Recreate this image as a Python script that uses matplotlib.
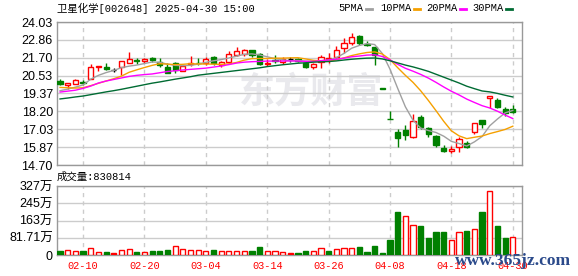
import matplotlib
matplotlib.use("Agg")
import matplotlib.pyplot as plt
from matplotlib.patches import Rectangle
from matplotlib.lines import Line2D

plt.rcParams['font.family'] = ['Liberation Sans', 'Noto Sans CJK SC']

# ---- data ----
title = '卫星化学[002648] 2025-04-30 15:00'
dates = ['02-05', '02-06', '02-07', '02-10', '02-11', '02-12', '02-13', '02-14', '02-17', '02-18',
         '02-19', '02-20', '02-21', '02-24', '02-25', '02-26', '02-27', '02-28', '03-03', '03-04',
         '03-05', '03-06', '03-07', '03-10', '03-11', '03-12', '03-13', '03-14', '03-17', '03-18',
         '03-19', '03-20', '03-21', '03-24', '03-25', '03-26', '03-27', '03-28', '03-31', '04-01',
         '04-02', '04-03', '04-07', '04-08', '04-09', '04-10', '04-11', '04-14', '04-15', '04-16',
         '04-17', '04-18', '04-21', '04-22', '04-23', '04-24', '04-25', '04-28', '04-29', '04-30']

opens = [20.16, 19.93, 19.97, 20.10, 20.29, 21.07, 21.11, 20.92, 21.07, 21.33,
         21.52, 21.48, 21.70, 21.44, 21.11, 21.33, 20.85, 21.27, 21.38, 21.33,
         21.72, 21.22, 21.44, 21.88, 21.94, 22.20, 21.94, 21.31, 21.55, 21.40,
         21.59, 21.63, 21.33, 21.11, 21.44, 21.59, 21.72, 22.31, 22.64, 23.11,
         22.59, 22.42, 19.70, 17.73, 16.87, 16.98, 16.55, 17.85, 17.13, 16.61,
         15.83, 15.59, 15.85, 16.16, 16.87, 17.64, 19.05, 18.94, 18.33, 18.35]
highs = [20.29, 20.07, 20.31, 20.25, 21.29, 21.18, 21.33, 21.03, 21.48, 22.07,
         21.66, 21.70, 21.76, 21.66, 21.33, 21.40, 21.22, 21.81, 21.66, 21.72,
         21.83, 21.50, 22.16, 22.42, 22.25, 22.20, 21.99, 21.59, 21.88, 21.76,
         21.72, 21.66, 21.44, 21.33, 21.88, 21.99, 22.46, 22.97, 23.29, 23.18,
         22.81, 22.42, 19.70, 18.20, 17.03, 17.31, 18.03, 17.98, 17.20, 16.66,
         16.00, 15.94, 16.51, 16.27, 17.42, 17.64, 19.20, 19.05, 18.46, 18.61]
lows = [19.90, 19.64, 19.97, 19.92, 20.29, 20.85, 20.90, 20.79, 20.57, 21.33,
        21.29, 21.37, 21.40, 21.11, 20.68, 20.72, 20.85, 21.18, 21.22, 21.22,
        21.22, 21.07, 21.33, 21.81, 21.81, 21.77, 21.22, 21.16, 21.33, 21.27,
        21.44, 21.44, 21.05, 20.94, 21.01, 21.37, 21.66, 22.03, 22.53, 22.53,
        22.46, 21.22, 19.69, 17.72, 15.89, 16.33, 16.44, 17.03, 16.55, 15.85,
        15.57, 15.50, 15.57, 15.79, 16.72, 17.09, 18.40, 18.40, 17.90, 18.07]
closes = [19.97, 20.03, 20.22, 20.08, 21.07, 21.18, 20.98, 20.92, 21.48, 21.61,
          21.48, 21.61, 21.55, 21.22, 20.72, 20.90, 21.18, 21.33, 21.33, 21.61,
          21.33, 21.44, 21.94, 22.14, 22.20, 21.88, 21.29, 21.35, 21.50, 21.61,
          21.59, 21.48, 21.11, 21.29, 21.77, 21.66, 22.20, 22.64, 23.07, 22.68,
          22.53, 21.88, 19.69, 17.72, 16.44, 16.66, 17.59, 17.16, 16.70, 16.00,
          15.61, 15.72, 16.38, 15.90, 17.42, 17.40, 19.20, 18.46, 18.07, 18.14]

ma5 = [19.55, 19.65, 19.78, 19.92, 20.30, 20.55, 20.73, 20.87, 21.05, 21.15,
       21.22, 21.32, 21.42, 21.40, 21.28, 21.20, 21.18, 21.20, 21.28, 21.40,
       21.50, 21.58, 21.68, 21.80, 21.92, 21.95, 21.88, 21.76, 21.64, 21.56,
       21.50, 21.52, 21.48, 21.46, 21.50, 21.55, 21.70, 21.98, 22.32, 22.50,
       22.62, 22.56, 21.97, 20.95, 19.70, 18.50, 17.62, 17.11, 16.95, 16.82,
       16.58, 16.24, 16.10, 15.94, 16.21, 16.56, 17.26, 17.70, 18.10, 18.26]
ma10 = [19.76, 19.74, 19.72, 19.74, 19.88, 20.03, 20.18, 20.33, 20.50, 20.75,
        20.91, 21.06, 21.20, 21.31, 21.28, 21.25, 21.27, 21.31, 21.29, 21.29,
        21.28, 21.26, 21.30, 21.39, 21.54, 21.64, 21.65, 21.65, 21.67, 21.67,
        21.69, 21.70, 21.62, 21.53, 21.49, 21.47, 21.56, 21.69, 21.84, 21.95,
        22.04, 22.08, 21.94, 21.58, 21.05, 20.55, 20.09, 19.54, 18.91, 18.24,
        17.55, 16.93, 16.60, 16.42, 16.51, 16.59, 16.75, 16.88, 17.02, 17.23]
ma20 = [19.46, 19.52, 19.58, 19.70, 19.85, 20.05, 20.18, 20.28, 20.38, 20.48,
        20.55, 20.60, 20.64, 20.72, 20.80, 20.85, 20.90, 20.94, 20.98, 21.02,
        21.09, 21.16, 21.25, 21.35, 21.41, 21.44, 21.46, 21.48, 21.48, 21.48,
        21.49, 21.48, 21.46, 21.46, 21.51, 21.55, 21.60, 21.67, 21.76, 21.81,
        21.87, 21.89, 21.78, 21.56, 21.27, 21.01, 20.82, 20.61, 20.37, 20.09,
        19.79, 19.51, 19.27, 19.00, 18.78, 18.57, 18.42, 18.21, 17.96, 17.73]
ma30 = [19.01, 19.07, 19.14, 19.20, 19.29, 19.38, 19.47, 19.55, 19.64, 19.74,
        19.84, 19.94, 20.04, 20.12, 20.21, 20.30, 20.38, 20.46, 20.56, 20.62,
        20.68, 20.74, 20.80, 20.86, 20.92, 20.98, 21.04, 21.12, 21.18, 21.24,
        21.29, 21.34, 21.37, 21.41, 21.43, 21.45, 21.49, 21.55, 21.60, 21.64,
        21.67, 21.68, 21.62, 21.50, 21.36, 21.22, 21.10, 20.96, 20.81, 20.62,
        20.43, 20.24, 20.05, 19.84, 19.68, 19.53, 19.47, 19.37, 19.25, 19.14]

# volume in units of 万 (10k)
volume = [19.0, 23.8, 19.0, 19.0, 31.7, 14.3, 14.3, 11.1, 23.8, 27.0,
          14.3, 12.7, 19.0, 19.0, 23.8, 41.3, 27.0, 23.8, 23.8, 19.0,
          23.8, 19.0, 19.0, 19.0, 19.0, 19.0, 38.1, 19.0, 19.0, 14.3,
          9.5, 11.1, 19.0, 19.0, 31.7, 19.0, 28.6, 31.7, 31.7, 38.1,
          15.9, 42.8, 11.1, 71.4, 201.6, 185.7, 142.8, 138.1, 81.0, 109.5,
          109.5, 71.4, 109.5, 114.3, 123.8, 204.7, 304.7, 138.1, 81.0, 83.08]
last_volume = '830814'

price_ticks = [14.70, 15.87, 17.03, 18.20, 19.37, 20.53, 21.70, 22.86, 24.03]
vol_ticks = [0, 81.71, 163.42, 245.13, 326.84]
vol_tick_labels = ['0', '81.71万', '163万', '245万', '327万']
ma_names = ['5PMA', '10PMA', '20PMA', '30PMA']

# ---- styling ----
RED = '#ff0000'
GREEN = '#008000'
GRID = '#cccccc'
FRAME = '#999999'
ma_colors = ['#a0a0a0', '#f5a000', '#ff00ff', '#006b33']
mono = ['Liberation Mono', 'Noto Sans CJK SC']

W, H = 578, 276
fig = plt.figure(figsize=(W / 100, H / 100), dpi=100)
ax = fig.add_axes([57 / W, 111 / H, 465 / W, 143 / H])
axv = fig.add_axes([57 / W, 21 / H, 465 / W, 69 / H])

n = len(closes)
xs = list(range(n))
label_idx = list(range(3, n, 8))
bw = 0.68

for a in (ax, axv):
    a.set_xlim(-0.4, 60.2)
    for s in a.spines.values():
        s.set_color(FRAME)
        s.set_linewidth(1.0)
    a.set_xticks(label_idx)
    a.tick_params(length=0)
    a.xaxis.grid(True, color=GRID, linestyle=(0, (3, 3)), linewidth=1.0, zorder=0)
    a.yaxis.grid(True, color=GRID, linewidth=1.0, zorder=0)
    a.set_axisbelow(True)

# watermark
ax.text(32.7, 19.46, '东方财富', color='#e9e9ed', fontsize=26, fontweight='bold',
        family='Noto Sans CJK SC', ha='center', va='center', zorder=0.5)

# candles
for i in xs:
    o, h, l, c = opens[i], highs[i], lows[i], closes[i]
    if c > o:
        col = RED
    elif c < o:
        col = GREEN
    else:
        col = 'black'
    ax.vlines(i, l, h, colors=col, linewidth=1.0, zorder=2)
    if c == o:
        ax.hlines(c, i - bw / 2, i + bw / 2, colors=col, linewidth=1.0, zorder=3)
    else:
        face = 'white' if c > o else GREEN
        ax.add_patch(Rectangle((i - bw / 2, min(o, c)), bw, abs(c - o), facecolor=face,
                               edgecolor=col, linewidth=1.0, zorder=3))

for ma, col in zip([ma5, ma10, ma20, ma30], ma_colors):
    ax.plot(xs, ma, color=col, linewidth=1.0, zorder=4)

ax.set_ylim(price_ticks[0], price_ticks[-1])
ax.set_yticks(price_ticks)
ax.set_yticklabels([f'{t:.2f}' for t in price_ticks])
ax.tick_params(axis='y', labelsize=9, pad=3)
ax.set_xticklabels([])

# volume bars: hollow red when close >= previous close, green when lower
for i in xs:
    if opens[i] == closes[i]:
        face, edge = RED, RED
    elif (closes[i] >= closes[i - 1]) if i > 0 else (closes[i] > opens[i]):
        face, edge = 'white', RED
    else:
        face, edge = GREEN, GREEN
    axv.bar(i, volume[i], width=bw, facecolor=face, edgecolor=edge, linewidth=1.0, zorder=3)

axv.set_ylim(vol_ticks[0], vol_ticks[-1])
axv.set_yticks(vol_ticks)
axv.set_yticklabels(vol_tick_labels)
axv.tick_params(axis='y', labelsize=9, pad=3)
axv.set_xticklabels([dates[i] for i in label_idx], color=RED, fontsize=7.4, family=mono)
axv.tick_params(axis='x', pad=4)

# header texts
fig.text(57 / W, 1 - 8 / H, title, fontsize=7.5, family=mono, va='center', ha='left')
fig.text(57 / W, 1 - 177 / H, '成交量:' + last_volume, fontsize=7.5, family=mono,
         va='center', ha='left')

leg_x = [338, 380, 426, 472]
for name, col, x0 in zip(ma_names, ma_colors, leg_x):
    fig.text(x0 / W, 1 - 8 / H, name, fontsize=7.5, family=mono, va='center', ha='left')
    dx = 6.2 * len(name) + 3
    fig.add_artist(Line2D([(x0 + dx) / W, (x0 + dx + 6) / W], [1 - 8.5 / H, 1 - 8.5 / H],
                          color=col, linewidth=2.0))

fig.text(455 / W, 15 / H, 'www.365jz.com', color='#2b4a8b', fontsize=12.5,
         family='Liberation Serif', fontweight='bold', va='center', ha='left')

fig.savefig('out.png', dpi=100)
